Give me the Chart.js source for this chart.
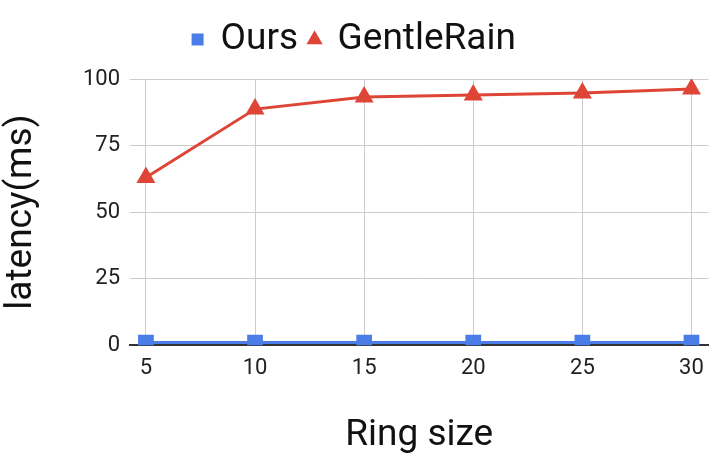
<!DOCTYPE html>
<html>
<head>
<meta charset="utf-8">
<script src="https://cdn.jsdelivr.net/npm/chart.js@4.4.0/dist/chart.umd.min.js"></script>
<style>
    html, body { margin: 0; padding: 0; background: #fff; overflow: hidden; }
    #wrap { width: 714px; height: 460px; position: relative; }
</style>
</head>
<body>
<div id="wrap"><canvas id="chart"></canvas></div>
<script>
// Chart data
const ringSizes = [5, 10, 15, 20, 25, 30];
const oursLatency = [1, 1, 1, 1, 1, 1];
const gentleRainLatency = [63, 88.7, 93.2, 94, 94.7, 96.2];
const yTicks = [0, 25, 50, 75, 100];

Chart.defaults.font.family = 'Roboto';
Chart.defaults.color = '#222';

// a bit more room between legend and plot
const legendGap = {
    id: 'legendGap',
    beforeInit(chart) {
        const fit = chart.legend.fit;
        chart.legend.fit = function() {
            fit.bind(chart.legend)();
            this.height += 11;
        };
    }
};

const ctx = document.getElementById('chart').getContext('2d');
new Chart(ctx, {
    type: 'line',
    data: {
        datasets: [{
            label: 'Ours',
            data: ringSizes.map((x, i) => ({ x: x, y: oursLatency[i] })),
            borderColor: '#4a7de8',
            backgroundColor: '#4a7de8',
            borderWidth: 3,
            pointStyle: 'rect',
            pointRadius: 9,
            pointHoverRadius: 9,
            tension: 0
        }, {
            label: 'GentleRain',
            data: ringSizes.map((x, i) => ({ x: x, y: gentleRainLatency[i] })),
            borderColor: '#de4537',
            backgroundColor: '#de4537',
            borderWidth: 3,
            pointStyle: 'triangle',
            pointRadius: 8,
            pointHoverRadius: 8,
            tension: 0
        }]
    },
    options: {
        responsive: true,
        maintainAspectRatio: false,
        animation: false,
        layout: {
            autoPadding: false,
            padding: { left: 0, right: 5, top: 9, bottom: 2 }
        },
        plugins: {
            legend: {
                position: 'top',
                labels: {
                    usePointStyle: true,
                    boxWidth: 9,
                    boxHeight: 9,
                    padding: 12,
                    color: '#111',
                    font: { size: 37 }
                }
            },
            tooltip: { enabled: false }
        },
        scales: {
            x: {
                type: 'linear',
                min: 4.27,
                max: 30.78,
                afterBuildTicks: function(scale) {
                    scale.ticks = ringSizes.map(v => ({ value: v }));
                },
                grid: { color: '#cccccc', drawTicks: false },
                border: { display: true, color: '#333333', width: 2 },
                ticks: { font: { size: 22 }, color: '#222', padding: 10, maxRotation: 0 },
                title: {
                    display: true,
                    text: 'Ring size',
                    font: { size: 37 },
                    color: '#111',
                    padding: { top: 22, bottom: 0 }
                }
            },
            y: {
                min: 0,
                max: 100,
                afterBuildTicks: function(scale) {
                    scale.ticks = yTicks.map(v => ({ value: v }));
                },
                afterFit: function(scale) {
                    scale.width = 130;
                },
                grid: { color: '#cccccc', drawTicks: false },
                border: { display: false },
                ticks: { font: { size: 22 }, color: '#222', padding: 10 },
                title: {
                    display: true,
                    text: 'latency(ms)',
                    font: { size: 37 },
                    color: '#111',
                    padding: { top: 0, bottom: 20 }
                }
            }
        }
    },
    plugins: [legendGap]
});
</script>
</body>
</html>
